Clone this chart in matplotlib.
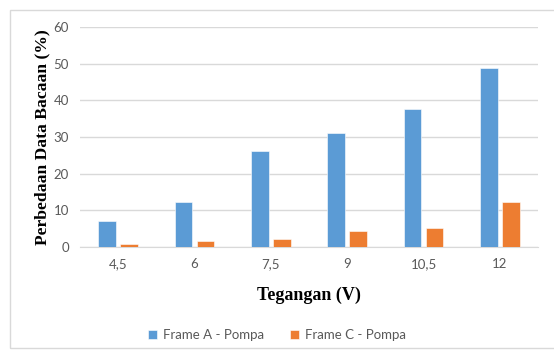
import numpy as np
import matplotlib.pyplot as plt
from matplotlib.patches import Rectangle

# tegangan (V) dan perbedaan data bacaan (%)
tegangan = ['4,5', '6', '7,5', '9', '10,5', '12']
frame_a = [7.1, 12.4, 26.3, 31.2, 37.7, 48.8]
frame_c = [0.9, 1.75, 2.2, 4.3, 5.3, 12.2]

biru = '#5B9BD5'
oranye = '#ED7D31'

fig = plt.figure(figsize=(5.54, 3.51), dpi=100)
ax = fig.add_axes([80/554, 1-247/351, 458/554, 220/351])

# bingkai luar grafik
fig.patches.append(Rectangle((10/554, 3/351), 600/554, 338/351, transform=fig.transFigure,
                             fill=False, edgecolor='#D9D9D9', linewidth=1.0))

x = np.arange(len(tegangan))
lebar = 0.23
ax.bar(x - 0.145, frame_a, lebar, color=biru, edgecolor='white', linewidth=0.4,
       label='Frame A - Pompa', zorder=3)
ax.bar(x + 0.145, frame_c, lebar, color=oranye, edgecolor='white', linewidth=0.4,
       label='Frame C - Pompa', zorder=3)

ax.set_xlim(-0.5, len(tegangan) - 0.5)
ax.set_ylim(0, 60)
ax.set_yticks(range(0, 61, 10))
ax.set_xticks(x)
ax.set_xticklabels(tegangan)
ax.yaxis.grid(True, color='#D9D9D9', linewidth=1.0, zorder=0)
for s in ax.spines.values():
    s.set_visible(False)
ax.spines['bottom'].set_visible(True)
ax.spines['bottom'].set_color('#D9D9D9')
ax.tick_params(length=0, labelsize=9.5, labelcolor='#595959', pad=8)
for lbl in ax.get_xticklabels() + ax.get_yticklabels():
    lbl.set_family('Lato')

ax.set_xlabel('Tegangan (V)', family='Liberation Serif', fontweight='bold',
              fontsize=13, labelpad=12)
ax.set_ylabel('Perbedaan Data Bacaan (%)', family='Liberation Serif', fontweight='bold',
              fontsize=12.6, labelpad=2)

leg = fig.legend(loc='center', bbox_to_anchor=(0.5, 1-335/351), ncol=2, frameon=False,
                 prop={'family': 'Lato', 'size': 9.5}, handlelength=0.7, handleheight=0.7,
                 columnspacing=2.0, handletextpad=0.4)
for t in leg.get_texts():
    t.set_color('#595959')

fig.savefig('out.png', dpi=100)
